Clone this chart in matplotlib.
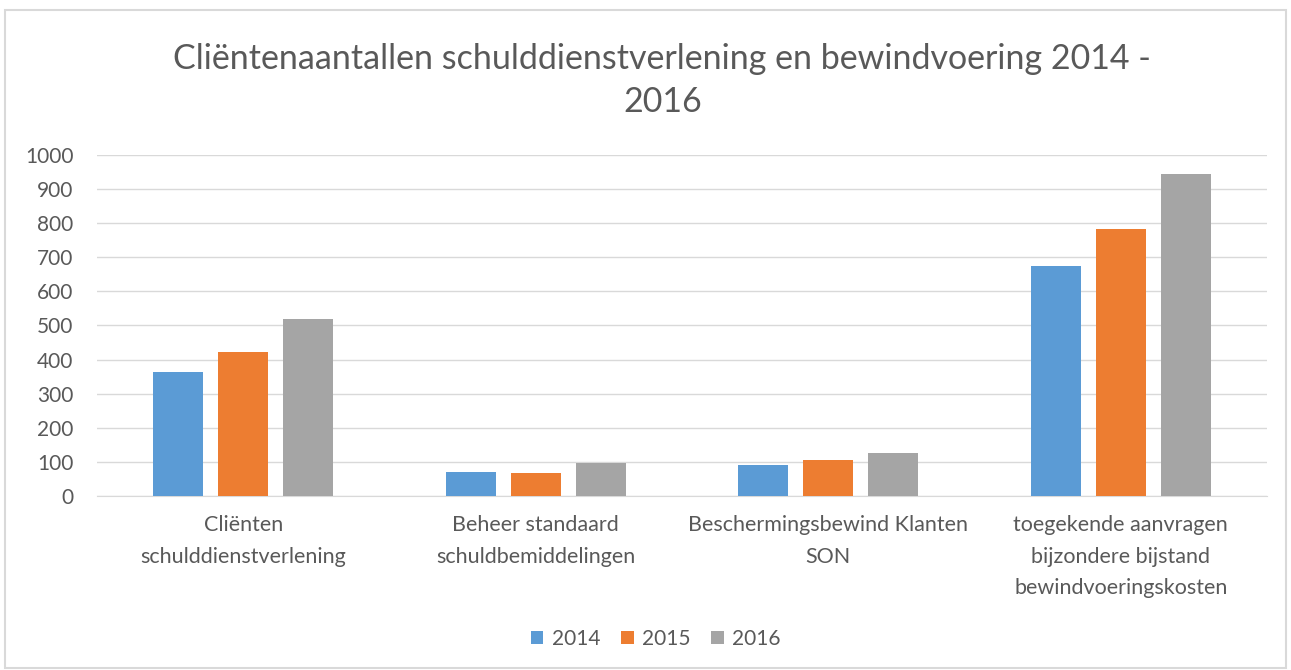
import numpy as np
import matplotlib.pyplot as plt
from matplotlib.patches import Rectangle

plt.rcParams['font.family'] = ['Lato', 'DejaVu Sans']

# Data
categories = ["Cliënten\nschulddienstverlening",
              "Beheer standaard\nschuldbemiddelingen",
              "Beschermingsbewind Klanten\nSON",
              "toegekende aanvragen\nbijzondere bijstand\nbewindvoeringskosten"]
years = ["2014", "2015", "2016"]
v2014 = [365, 69, 92, 675]
v2015 = [421, 66, 107, 784]
v2016 = [520, 96, 126, 944]
colors = ["#5B9BD5", "#ED7D31", "#A5A5A5"]
text_color = "#595959"

fig = plt.figure(figsize=(12.91, 6.70), dpi=100)
fig.patches.append(Rectangle((0.004, 0.003), 0.992, 0.982, transform=fig.transFigure,
                             fill=False, edgecolor="#D9D9D9", linewidth=1.5))

ax = fig.add_axes([0.0751, 0.2597, 0.9063, 0.509])
x = np.arange(len(categories))
width = 0.171
step = 0.222
for i, (vals, yr) in enumerate(zip([v2014, v2015, v2016], years)):
    ax.bar(x + (i - 1) * step, vals, width, color=colors[i], label=yr, zorder=3)

ax.set_xlim(-0.5, len(categories) - 0.5)
ax.set_ylim(0, 1000)
ax.set_yticks(np.arange(0, 1001, 100))
ax.set_xticks(x)
ax.set_xticklabels(categories, fontsize=15.5, color=text_color, linespacing=1.7)
ax.tick_params(axis='y', labelsize=15, labelcolor=text_color, length=0, pad=17)
ax.tick_params(axis='x', length=0, pad=14)
ax.grid(axis='y', color="#D9D9D9", linewidth=1, zorder=0)
for s in ["top", "right", "left"]:
    ax.spines[s].set_visible(False)
ax.spines["bottom"].set_color("#D9D9D9")

fig.text(0.513, 0.88, "Cliëntenaantallen schulddienstverlening en bewindvoering 2014 -\n2016",
         ha='center', va='center', fontsize=24.5, color=text_color, linespacing=1.45,
         multialignment='center')

leg = fig.legend(loc='center', bbox_to_anchor=(0.508, 0.046), ncol=3, frameon=False,
                 fontsize=15, handlelength=0.6, handleheight=0.6, handletextpad=0.4,
                 columnspacing=1.0)
for t in leg.get_texts():
    t.set_color(text_color)

fig.savefig("out.png", dpi=100)
